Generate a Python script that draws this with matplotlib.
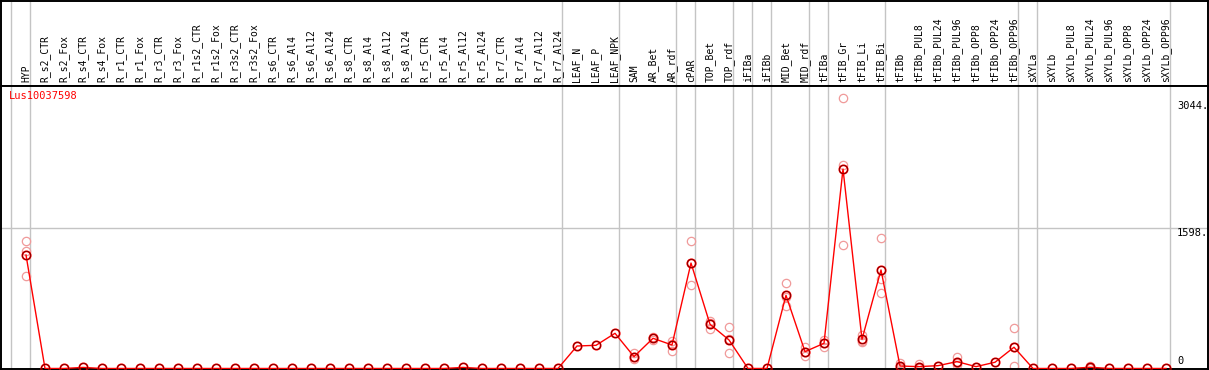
import numpy as np
import matplotlib
matplotlib.use("Agg")
import matplotlib.pyplot as plt
from matplotlib.transforms import blended_transform_factory

# sample names, in display order
samples = ["HYP",
           "R_s2_CTR", "R_s2_Fox", "R_s4_CTR", "R_s4_Fox", "R_r1_CTR", "R_r1_Fox",
           "R_r3_CTR", "R_r3_Fox", "R_r1s2_CTR", "R_r1s2_Fox", "R_r3s2_CTR", "R_r3s2_Fox",
           "R_s6_CTR", "R_s6_Al4", "R_s6_Al12", "R_s6_Al24", "R_s8_CTR", "R_s8_Al4",
           "R_s8_Al12", "R_s8_Al24", "R_r5_CTR", "R_r5_Al4", "R_r5_Al12", "R_r5_Al24",
           "R_r7_CTR", "R_r7_Al4", "R_r7_Al12", "R_r7_Al24",
           "LEAF_N", "LEAF_P", "LEAF_NPK",
           "SAM", "AR_Bet", "AR_rdf",
           "cPAR",
           "TOP_Bet", "TOP_rdf",
           "iFIBa",
           "iFIBb",
           "MID_Bet", "MID_rdf",
           "tFIBa",
           "tFIB_Gr", "tFIB_Li", "tFIB_Bi",
           "tFIBb", "tFIBb_PUL8", "tFIBb_PUL24", "tFIBb_PUL96", "tFIBb_OPP8",
           "tFIBb_OPP24", "tFIBb_OPP96",
           "sXYLa",
           "sXYLb", "sXYLb_PUL8", "sXYLb_PUL24", "sXYLb_PUL96", "sXYLb_OPP8",
           "sXYLb_OPP24", "sXYLb_OPP96"]

# how many samples in each tissue group (grey separators between groups)
group_sizes = [1, 28, 3, 3, 1, 2, 1, 1, 2, 1, 3, 7, 1, 7]

# mean expression per sample
means = [1294,
         0, 0, 12, 0, 0, 0, 0, 0, 0, 0, 0, 0,
         0, 0, 0, 0, 0, 0, 0, 0, 0, 0, 12, 0, 0, 0, 0, 0,
         256, 264, 401,
         135, 344, 268,
         1202,
         504, 325,
         0,
         0,
         834, 192,
         287,
         2274, 333, 1123,
         28, 21, 32, 78, 21, 71, 242,
         0,
         0, 0, 14, 0, 0, 0, 0]

# individual replicates (only where they show apart from the mean)
replicates = {
    "HYP": [1457, 1343, 1054],
    "SAM": [173, 105, 127],
    "AR_Bet": [360, 330, 344],
    "AR_rdf": [317, 203, 284],
    "cPAR": [1457, 948, 1201],
    "TOP_Bet": [541, 450, 521],
    "TOP_rdf": [470, 173, 332],
    "MID_Bet": [975, 712, 815],
    "MID_rdf": [249, 142, 185],
    "tFIBa": [325, 249, 287],
    "tFIB_Gr": [3080, 2320, 1408],
    "tFIB_Li": [382, 299, 318],
    "tFIB_Bi": [1484, 1017, 857],
    "tFIBb": [59, 14, 11],
    "tFIBb_PUL8": [51, 8, 4],
    "tFIBb_PUL96": [128, 40, 66],
    "tFIBb_OPP96": [458, 28, 240],
    "sXYLb_PUL24": [28, 8, 6],
}

ref_levels = [3044, 1598, 0]
gene = "Lus10037598"

W, H = 1209, 370
mono = "DejaVu Sans Mono"
grid_c = "#c4c4c4"

fig = plt.figure(figsize=(W / 100, H / 100), dpi=100)
hdr = fig.add_axes([1 / W, (H - 86) / H, 1207 / W, 85 / H])
ax = fig.add_axes([1 / W, 1 / H, 1207 / W, 283 / H])

x = np.arange(len(samples))
x0 = (1 - 26) / 19
x1 = (1208 - 26) / 19
for a in (hdr, ax):
    a.set_xlim(x0, x1)
    a.set_xticks([])
    a.set_yticks([])
    for s in a.spines.values():
        s.set_color("black")
        s.set_linewidth(1.4)
ax.set_ylim(-6, 3220)
hdr.set_ylim(0, 1)

# group separators
bounds = np.concatenate([[-1], np.cumsum(group_sizes) - 1]) + 0.2
for b in bounds:
    for a in (hdr, ax):
        a.axvline(b, color=grid_c, lw=1.0, zorder=0)
ax.axhline(ref_levels[1], color=grid_c, lw=1.0, zorder=0)

# sample labels in the header
for xi, name in zip(x, samples):
    hdr.text(xi, 0.047, name, rotation=90, ha="center", va="bottom",
             fontsize=7, family=mono, color="black")

# replicates
for name, vals in replicates.items():
    i = samples.index(name)
    ax.plot([i] * len(vals), vals, "o", ms=6, mfc="none", mec="#f09a9a",
            mew=0.9, zorder=2, clip_on=False)

# mean profile
ax.plot(x, means, "-", color="red", lw=1.0, zorder=3)
ax.plot(x, means, "o", ms=6, mfc="none", mec="red", mew=1.3, zorder=4,
        clip_on=False)
ax.plot(x, means, "o", ms=6, mfc="none", mec="#600000", mew=0.5, zorder=5,
        clip_on=False)

# reference values on the right
tr = blended_transform_factory(ax.transAxes, ax.transData)
lx = (1177 - 1) / 1207
ax.text(lx, ref_levels[0], f"{ref_levels[0]}.", transform=tr, ha="left",
        va="top", fontsize=7.5, family=mono)
ax.text(lx, ref_levels[1], f"{ref_levels[1]}.", transform=tr, ha="left",
        va="top", fontsize=7.5, family=mono)
ax.text(lx, ref_levels[2] + 30, f"{ref_levels[2]}", transform=tr, ha="left",
        va="bottom", fontsize=7.5, family=mono)

ax.text(8 / 1207, 1 - 5 / 283, gene, transform=ax.transAxes, ha="left",
        va="top", fontsize=7.5, family=mono, color="red")

fig.savefig("out.png", dpi=100)
